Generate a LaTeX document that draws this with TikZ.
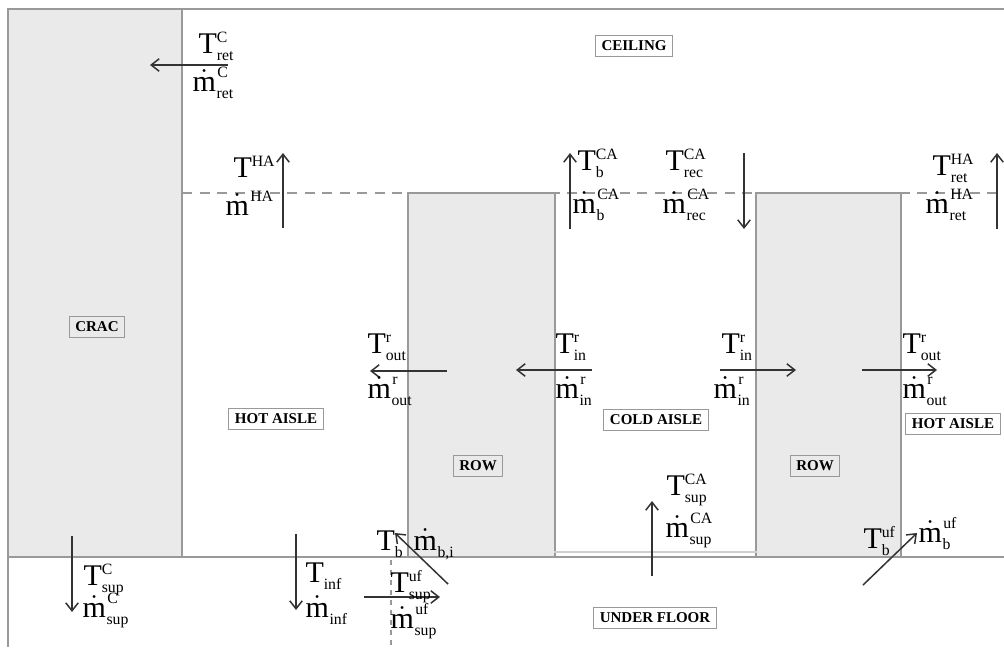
\documentclass[tikz,border=0pt]{standalone}
\usepackage{fontspec}
\setmainfont{Liberation Serif}
\usetikzlibrary{arrows.meta}
\definecolor{wallgray}{HTML}{999999}
\definecolor{fillgray}{HTML}{EAEAEA}
\definecolor{arrowcol}{HTML}{333333}
\definecolor{lightline}{HTML}{CFCFCF}
\newcommand\supsz{\fontsize{6.3}{7}\selectfont}
\newcommand\Tq[2]{\hbox{T}$^{\hbox{\supsz #1}}_{\hbox{\supsz #2}}$}
\newcommand\Mq[2]{$\dot{\hbox{m}}^{\hbox{\kern0.6pt\supsz #1}}_{\hbox{\kern0.3pt\supsz #2}}$}
\tikzset{
  wall/.style={draw=wallgray, line width=0.6pt},
  block/.style={draw=wallgray, fill=fillgray, line width=0.6pt},
  tag/.style={draw=wallgray, line width=0.4pt, font=\fontsize{6}{7}\selectfont\bfseries, inner xsep=2.4pt, inner ysep=2.2pt},
  qty/.style={anchor=base west, inner sep=0pt, font=\fontsize{12}{12}\selectfont},
  flow/.style={draw=arrowcol, line width=0.6pt, -{Straight Barb[length=3.2pt,width=5pt]}},
  levelline/.style={draw=wallgray, line width=0.6pt, dash pattern=on 4pt off 3pt},
  cutline/.style={draw=wallgray, line width=0.5pt, dash pattern=on 2pt off 2pt}
}
\begin{document}
\begin{tikzpicture}[x=0.4pt,y=-0.4pt]
\useasboundingbox (0,0) rectangle (1004,647);
% frame
\draw[wall] (1004,9) -- (8,9) -- (8,647);
% raised-floor level (dashed)
\draw[levelline] (182,193) -- (1004,193);
% CRAC
\path[block] (8,9) rectangle (182,557);
% rows
\path[block] (408,193) rectangle (555,557);
\path[block] (756,193) rectangle (901,557);
% cold aisle bottom
\draw[draw=lightline, line width=0.6pt] (554,552) -- (757,552);
% floor
\draw[wall] (8,557) -- (1004,557);
\draw[cutline] (391,560) -- (391,647);

% tags
\node[tag] (ceiling) at (634,46) {CEILING};
\node[tag] (crac) at (97,327) {CRAC};
\node[tag] (hotl) at (276,419) {HOT AISLE};
\node[tag] (cold) at (656,420) {COLD AISLE};
\node[tag] (hotr) at (953,424) {HOT AISLE};
\node[tag] (rowl) at (478,466) {ROW};
\node[tag] (rowr) at (815,466) {ROW};
\node[tag] (under) at (655,618) {UNDER FLOOR};

% arrow end points
\coordinate (a1s) at (228,65);  \coordinate (a1e) at (150,65);
\coordinate (a2s) at (283,228); \coordinate (a2e) at (283,153);
\coordinate (a3s) at (570,229); \coordinate (a3e) at (570,153);
\coordinate (a4s) at (744,153); \coordinate (a4e) at (744,229);
\coordinate (a5s) at (997,229); \coordinate (a5e) at (997,153);
\coordinate (a6s) at (447,371); \coordinate (a6e) at (370,371);
\coordinate (a7s) at (592,370); \coordinate (a7e) at (516,370);
\coordinate (a8s) at (720,370); \coordinate (a8e) at (796,370);
\coordinate (a9s) at (862,370); \coordinate (a9e) at (937,370);
\coordinate (a10s) at (652,576); \coordinate (a10e) at (652,501);
\coordinate (a11s) at (863,585); \coordinate (a11e) at (917,533);
\coordinate (a12s) at (72,536); \coordinate (a12e) at (72,612);
\coordinate (a13s) at (296,534); \coordinate (a13e) at (296,610);
\coordinate (a14s) at (448,584); \coordinate (a14e) at (395,533);
\coordinate (a15s) at (364,597); \coordinate (a15e) at (440,597);
\foreach \i in {1,...,15} \draw[flow] (a\i s) -- (a\i e);

% labels
\node[qty] (tcret) at (198,53) {\Tq{C}{ret}};
\node[qty] (mcret) at (192,91) {\Mq{C}{ret}};
\node[qty] (tha) at (233,177) {\Tq{HA}{}};
\node[qty] (mha) at (225,215) {\Mq{HA}{}};
\node[qty] (tbca) at (577,170) {\Tq{CA}{b}};
\node[qty] (mbca) at (572,213) {\Mq{CA}{b}};
\node[qty] (trec) at (665,170) {\Tq{CA}{rec}};
\node[qty] (mrec) at (662,213) {\Mq{CA}{rec}};
\node[qty] (tret) at (932,175) {\Tq{HA}{ret}};
\node[qty] (mret) at (925,213) {\Mq{HA}{ret}};
\node[qty] (tout1) at (367,353) {\Tq{r}{out}};
\node[qty] (mout1) at (367,398) {\Mq{r}{out}};
\node[qty] (tin1) at (555,353) {\Tq{r}{in}};
\node[qty] (min1) at (555,398) {\Mq{r}{in}};
\node[qty] (tin2) at (721,353) {\Tq{r}{in}};
\node[qty] (min2) at (713,398) {\Mq{r}{in}};
\node[qty] (tout2) at (902,353) {\Tq{r}{out}};
\node[qty] (mout2) at (902,398) {\Mq{r}{out}};
\node[qty] (tsupca) at (666,495) {\Tq{CA}{sup}};
\node[qty] (msupca) at (665,537) {\Mq{CA}{sup}};
\node[qty] (tbuf) at (863,548) {\Tq{uf}{b}};
\node[qty] (mbuf) at (918,542) {\Mq{uf}{b}};
\node[qty] (tcsup) at (83,585) {\Tq{C}{sup}};
\node[qty] (mcsup) at (82,617) {\Mq{C}{sup}};
\node[qty] (tinf) at (305,582) {\Tq{}{inf}};
\node[qty] (minf) at (305,617) {\Mq{}{inf}};
\node[qty] (tb) at (376,550) {\Tq{}{b}};
\node[qty] (mbi) at (413,550) {\Mq{}{b,i}};
\node[qty] (tufsup) at (390,592) {\Tq{uf}{sup}};
\node[qty] (mufsup) at (390,628) {\Mq{uf}{sup}};
\end{tikzpicture}
\end{document}
